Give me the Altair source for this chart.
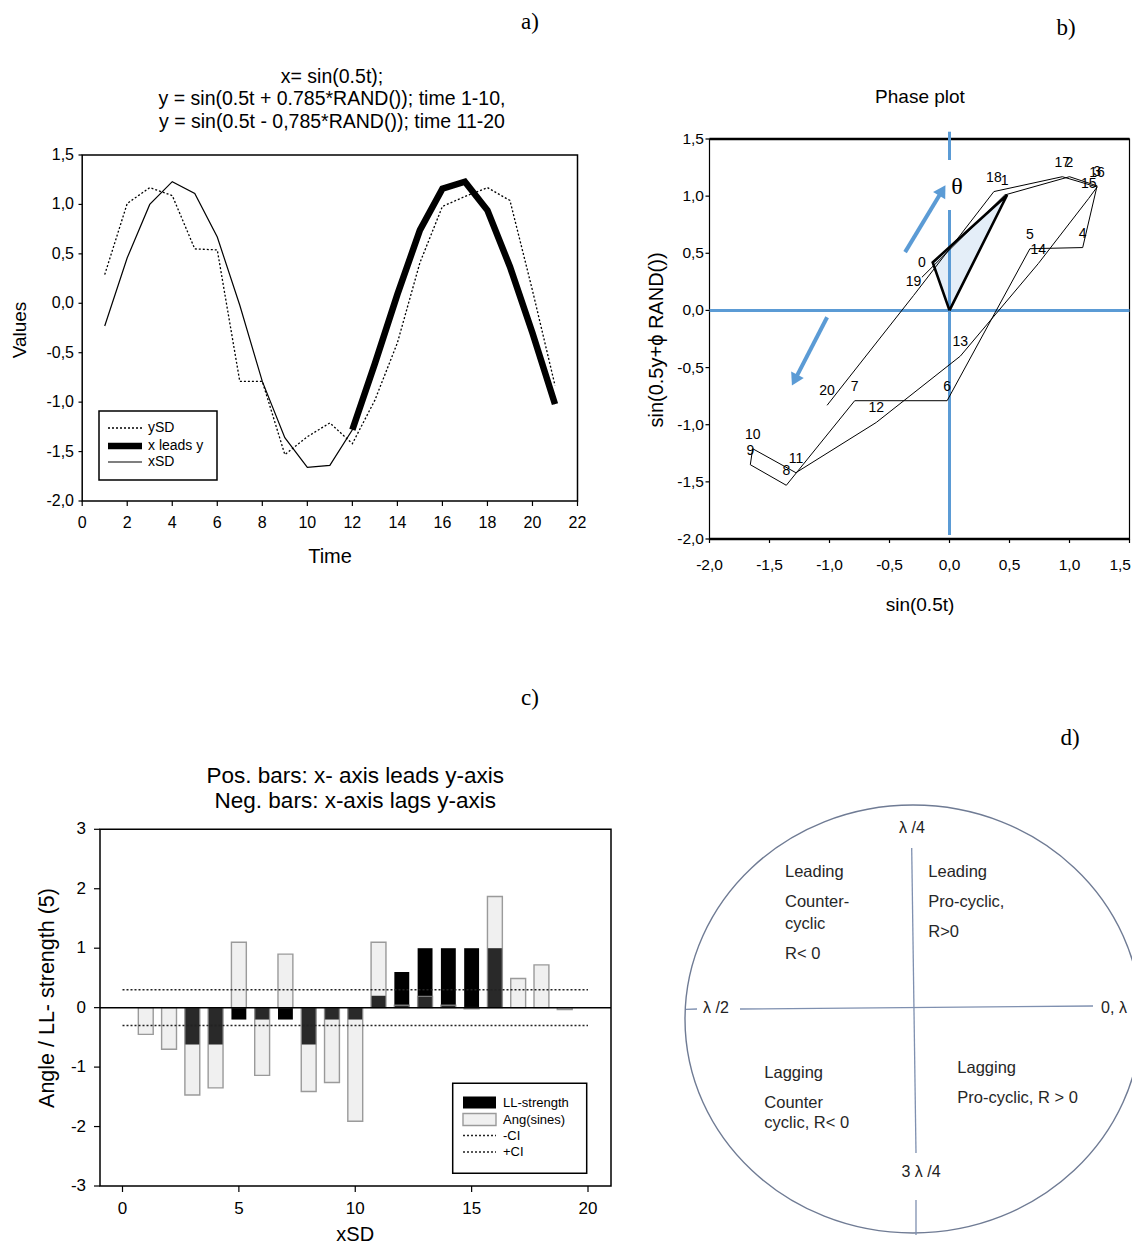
import altair as alt
import pandas as pd

# ======================= DATA =======================
# Panel a) standardised series, time 1..21
TIME = list(range(1, 22))
XSD = [-0.23, 0.46, 1.00, 1.23, 1.11, 0.67, -0.02, -0.79, -1.36, -1.66, -1.64,
       -1.28, -0.61, 0.09, 0.74, 1.16, 1.23, 0.94, 0.37, -0.30, -1.02]
YSD = [0.29, 1.01, 1.17, 1.09, 0.55, 0.54, -0.79, -0.79, -1.53, -1.35, -1.21,
       -1.42, -0.98, -0.40, 0.41, 0.98, 1.08, 1.17, 1.04, 0.13, -0.83]
LEAD_FROM = 12
A_TITLE = ["x= sin(0.5t);",
           "y = sin(0.5t + 0.785*RAND()); time 1-10,",
           "y = sin(0.5t - 0,785*RAND()); time 11-20"]
A_XTICKS = [0, 2, 4, 6, 8, 10, 12, 14, 16, 18, 20, 22]
A_YTICKS = [1.5, 1.0, 0.5, 0.0, -0.5, -1.0, -1.5, -2.0]
A_YLABELS = ["1,5", "1,0", "0,5", "0,0", "-0,5", "-1,0", "-1,5", "-2,0"]
A_LEGEND = ["ySD", "x leads y", "xSD"]

# Panel b) phase plot
B_TICKS = [-2.0, -1.5, -1.0, -0.5, 0.0, 0.5, 1.0, 1.5]
B_LABELS = ["-2,0", "-1,5", "-1,0", "-0,5", "0,0", "0,5", "1,0", "1,5"]
PHASE_LABELS = [str(t - 1) for t in TIME]
TRI_X = [0.0, -0.14, 0.48, 0.0]
TRI_Y = [0.0, 0.42, 1.01, 0.0]
ARROW_TAIL_X = [-0.37, -1.02]
ARROW_TAIL_Y = [0.51, -0.06]
ARROW_HEAD_X = [-0.06, -1.29]
ARROW_HEAD_Y = [1.05, -0.61]
ARROW_ANGLE = [31, 207]

# Panel c) bars
C_X = list(range(1, 20))
C_LL = [0, 0, -0.62, -0.62, -0.20, -0.20, -0.20, -0.62, -0.20, -0.20,
        0.20, 0.60, 1.00, 1.00, 1.00, 1.00, 0, 0, 0]
C_ANG = [-0.45, -0.70, -1.47, -1.35, 1.10, -1.14, 0.90, -1.41, -1.26, -1.91,
         1.10, 0.04, 0.19, 0.04, -0.02, 1.87, 0.49, 0.72, -0.03]
C_CI = 0.3
C_XTICKS = [0, 5, 10, 15, 20]
C_YTICKS = [3, 2, 1, 0, -1, -2, -3]
C_LEGEND = ["LL-strength", "Ang(sines)", "-CI", "+CI"]
C_TITLE = ["Pos. bars: x- axis leads y-axis", "Neg. bars: x-axis lags y-axis"]

# Panel d) diagram
D_AXIS_LABELS = ["λ /4", "λ /2", "0, λ", "3 λ /4"]
D_QUADRANTS = [["Leading", "Counter-", "cyclic", "R< 0"],
               ["Leading", "Pro-cyclic,", "R>0"],
               ["Lagging", "Counter", "cyclic, R< 0"],
               ["Lagging", "Pro-cyclic, R > 0"]]

# ======================= LAYOUT =======================
SANS = "Liberation Sans, Arial, Helvetica, sans-serif"
SERIF = "Liberation Serif, Times New Roman, serif"
M = 8  # page margin


class Panel:
    def __init__(self, xd, xp, yd, yp):
        self.X = alt.Scale(domain=list(xd), range=[xp[0] - M, xp[1] - M], nice=False, zero=False)
        self.Y = alt.Scale(domain=list(yd), range=[yp[0] - M, yp[1] - M], nice=False, zero=False)
        self.fx = lambda p: xd[0] + (p - xp[0]) * (xd[1] - xd[0]) / (xp[1] - xp[0])
        self.fy = lambda p: yd[0] + (p - yp[0]) * (yd[1] - yd[0]) / (yp[1] - yp[0])
        self.layers = []

    def enc(self, ch, x="x", y="y", x2=None, y2=None, **kw):
        e = {"x": alt.X(f"{x}:Q", scale=self.X, axis=None),
             "y": alt.Y(f"{y}:Q", scale=self.Y, axis=None)}
        if x2:
            e["x2"] = alt.X2(f"{x2}:Q")
        if y2:
            e["y2"] = alt.Y2(f"{y2}:Q")
        e.update(kw)
        return ch.encode(**e)

    def add(self, ch):
        self.layers.append(ch)

    def rect(self, x, x2, y, y2, **mk):
        df = pd.DataFrame({"x": [x], "x2": [x2], "y": [y], "y2": [y2]})
        self.add(self.enc(alt.Chart(df).mark_rect(**mk), x2="x2", y2="y2"))

    def rules(self, rows, **mk):
        df = pd.DataFrame(rows, columns=["x", "y", "x2", "y2"])
        self.add(self.enc(alt.Chart(df).mark_rule(**mk), x2="x2", y2="y2"))

    def texts(self, rows, **mk):
        mk.setdefault("font", SANS)
        mk.setdefault("baseline", "middle")
        mk.setdefault("color", "black")
        df = pd.DataFrame(rows, columns=["x", "y", "label"])
        self.add(self.enc(alt.Chart(df).mark_text(**mk), text="label:N"))

    def chart(self):
        return alt.layer(*self.layers)


# ---------------- panel a ----------------
A = Panel((0, 22), (82.2, 577.5), (-2, 1.5), (501, 155))
A.rect(0, 22, -2, 1.5, fillOpacity=0, stroke="black", strokeWidth=1.5)
ts = pd.DataFrame({"t": TIME, "xsd": XSD, "ysd": YSD})
A.add(A.enc(alt.Chart(ts).mark_line(color="black", strokeWidth=1.3, strokeDash=[2, 2]),
            x="t", y="ysd", order="t:Q"))
A.add(A.enc(alt.Chart(ts).mark_line(color="black", strokeWidth=1.2),
            x="t", y="xsd", order="t:Q"))
A.add(A.enc(alt.Chart(ts).transform_filter(alt.datum.t >= LEAD_FROM)
            .mark_line(color="black", strokeWidth=6.5), x="t", y="xsd", order="t:Q"))
A.rules([(0, v, A.fx(78.5), v) for v in A_YTICKS], color="black", strokeWidth=1.2)
A.rules([(t, -2, t, A.fy(506)) for t in A_XTICKS], color="black", strokeWidth=1.2)
A.texts([(A.fx(74), v, s) for v, s in zip(A_YTICKS, A_YLABELS)], align="right", fontSize=16)
A.texts([(t, A.fy(523), str(t)) for t in A_XTICKS], align="center", fontSize=16)
A.texts([(A.fx(330), A.fy(557), "Time")], fontSize=20)
A.texts([(A.fx(20), A.fy(330), "Values")], angle=270, fontSize=19)
A.texts([(A.fx(332), A.fy(y), s) for y, s in zip([77, 99, 122], A_TITLE)], fontSize=19.5)
A.texts([(A.fx(530), A.fy(22), "a)")], font=SERIF, fontSize=23)
A.rect(A.fx(99), A.fx(217), A.fy(480), A.fy(411), fill="white", stroke="black", strokeWidth=1.5)
LEG_A = [428, 446, 462]
A.rules([(A.fx(108), A.fy(LEG_A[0]), A.fx(142), A.fy(LEG_A[0]))], color="black",
        strokeWidth=1.3, strokeDash=[2, 2])
A.rules([(A.fx(108), A.fy(LEG_A[1]), A.fx(142), A.fy(LEG_A[1]))], color="black", strokeWidth=6.5)
A.rules([(A.fx(108), A.fy(LEG_A[2]), A.fx(142), A.fy(LEG_A[2]))], color="black", strokeWidth=1.2)
A.texts([(A.fx(148), A.fy(y), s) for y, s in zip(LEG_A, A_LEGEND)], align="left", fontSize=14)

# ---------------- panel b ----------------
BLUE = "#5b9bd5"
B = Panel((-2, 1.5), (709.5, 1129.5), (-2, 1.5), (539, 139))
tri = pd.DataFrame({"i": range(len(TRI_X)), "x": TRI_X, "y": TRI_Y})
B.add(B.enc(alt.Chart(tri).mark_line(fill="#e4eef8", strokeOpacity=0), order="i:Q"))
B.rect(-2, 1.5, -2, 1.5, fillOpacity=0, stroke="black", strokeWidth=1.2)
B.rules([(-2, 1.5, 1.5, 1.5), (-2, -2, 1.5, -2)], color="black", strokeWidth=2.5)
B.rules([(-2, 0, 1.5, 0), (0, B.fy(131.7), 0, B.fy(160)), (0, B.fy(210), 0, B.fy(535))],
        color=BLUE, strokeWidth=3)
ph = pd.DataFrame({"t": TIME, "x": XSD, "y": YSD, "label": PHASE_LABELS})
B.add(B.enc(alt.Chart(ph).mark_line(color="black", strokeWidth=1), order="t:Q"))
B.add(B.enc(alt.Chart(tri).mark_line(color="black", strokeWidth=2.6), order="i:Q"))
B.add(B.enc(alt.Chart(ph).mark_text(font=SANS, fontSize=14, dy=-14, color="black"),
            text="label:N"))
arr = pd.DataFrame({"x": ARROW_TAIL_X, "y": ARROW_TAIL_Y, "x2": ARROW_HEAD_X,
                    "y2": ARROW_HEAD_Y, "angle": ARROW_ANGLE})
B.add(B.enc(alt.Chart(arr).mark_rule(color=BLUE, strokeWidth=4), x2="x2", y2="y2"))
B.add(B.enc(alt.Chart(arr).mark_point(shape="triangle-up", filled=True, color=BLUE,
                                      size=200, opacity=1),
            x="x2", y="y2", angle=alt.Angle("angle:Q", scale=None)))
B.texts([(B.fx(957), B.fy(187), "θ")], font=SERIF, fontSize=24)
B.rules([(-2, v, B.fx(705.5), v) for v in B_TICKS], color="black", strokeWidth=1.2)
B.rules([(v, -2, v, B.fy(543)) for v in B_TICKS], color="black", strokeWidth=1.2)
B.texts([(B.fx(704), v, s) for v, s in zip(B_TICKS, B_LABELS)], align="right", fontSize=15.5)
B.texts([(v, B.fy(565), s) for v, s in zip(B_TICKS[:-1], B_LABELS[:-1])], align="center",
        fontSize=15.5)
B.texts([(B.fx(1131), B.fy(565), B_LABELS[-1])], align="right", fontSize=15.5)
B.texts([(B.fx(920), B.fy(97), "Phase plot")], fontSize=19)
B.texts([(B.fx(920), B.fy(605), "sin(0.5t)")], fontSize=19)
B.texts([(B.fx(657), B.fy(340), "sin(0.5y+ϕ RAND())")], fontSize=20, angle=270)
B.texts([(B.fx(1066), B.fy(28), "b)")], font=SERIF, fontSize=23)

# ---------------- panel c ----------------
C = Panel((0, 20), (122.5, 588), (-3, 3), (1186, 829.3))
XL, XR = C.fx(100), C.fx(611)
C.rect(XL, XR, -3, 3, fillOpacity=0, stroke="black", strokeWidth=1.5)
bars = pd.DataFrame({"x": C_X, "ll": C_LL, "ang": C_ANG})
BW = 0.32
base = alt.Chart(bars).transform_calculate(x0=f"datum.x - {BW}", x1=f"datum.x + {BW}", zero="0")
C.add(C.enc(base.mark_rect(color="black"), x="x0", x2="x1", y="ll", y2="zero"))
C.add(C.enc(base.mark_rect(fill="#bcbcbc", fillOpacity=0.22, stroke="#8a8a8a",
                           strokeWidth=1.4, strokeOpacity=0.85),
            x="x0", x2="x1", y="ang", y2="zero"))
C.rules([(XL, 0, XR, 0)], color="black", strokeWidth=1.5)
C.rules([(0, C_CI, 20, C_CI), (0, -C_CI, 20, -C_CI)], color="#222222",
        strokeWidth=1.4, strokeDash=[2, 2])
C.rules([(XL, v, C.fx(94), v) for v in C_YTICKS], color="black", strokeWidth=1.2)
C.rules([(t, -3, t, C.fy(1192)) for t in C_XTICKS], color="black", strokeWidth=1.2)
C.texts([(C.fx(86), v, str(v)) for v in C_YTICKS], align="right", fontSize=17)
C.texts([(t, C.fy(1209), str(t)) for t in C_XTICKS], align="center", fontSize=17)
C.texts([(10, C.fy(776), C_TITLE[0]), (10, C.fy(801), C_TITLE[1])], fontSize=22.5)
C.texts([(10, C.fy(1234.5), "xSD")], fontSize=20)
C.texts([(C.fx(48), C.fy(998), "Angle / LL- strength (5)")], fontSize=21.5, angle=270)
C.texts([(C.fx(530), C.fy(698), "c)")], font=SERIF, fontSize=23)
C.rect(C.fx(452.7), C.fx(586.7), C.fy(1173.3), C.fy(1083.3), fill="white",
       stroke="black", strokeWidth=1.5)
C.rect(C.fx(463), C.fx(496), C.fy(1108.5), C.fy(1096.5), color="black")
C.rect(C.fx(463), C.fx(496), C.fy(1125.5), C.fy(1113.5), fill="#f0f0f0",
       stroke="#9a9a9a", strokeWidth=1.4)
LEG_C = [1102.5, 1119.5, 1135.5, 1152]
C.rules([(C.fx(463), C.fy(y), C.fx(496), C.fy(y)) for y in LEG_C[2:]], color="#222222",
        strokeWidth=1.4, strokeDash=[2, 2])
C.texts([(C.fx(503), C.fy(y), s) for y, s in zip(LEG_C, C_LEGEND)], align="left", fontSize=13)

# ---------------- panel d ----------------
D = Panel((-1, 1), (685, 1141), (-1, 1), (1233, 805))
ELLIPSE = "M-1,0A1,0.9386 0 1,1 1,0A1,0.9386 0 1,1 -1,0Z"
D.add(D.enc(alt.Chart(pd.DataFrame({"x": [0], "y": [0]}))
            .mark_point(shape=ELLIPSE, size=456 ** 2, stroke="#6f7b94", strokeWidth=1.4,
                        opacity=1, filled=False)))
D.rules([(D.fx(686), D.fy(1009.3), D.fx(697), D.fy(1009)),
         (D.fx(740), D.fy(1009), D.fx(1093), D.fy(1006)),
         (D.fx(911.7), D.fy(848), D.fx(916), D.fy(1153)),
         (D.fx(916), D.fy(1200), D.fx(916), D.fy(1235))],
        color="#7f90b0", strokeWidth=1.3)
D_LAB_POS = [(912, 828), (716, 1008), (1114, 1008), (921, 1172)]
D.texts([(D.fx(px), D.fy(py), s) for (px, py), s in zip(D_LAB_POS, D_AXIS_LABELS)],
        fontSize=16, color="#222222")
D_Q_POS = [(785, [871.7, 901.7, 924, 954]),
           (928.3, [871.7, 901.7, 931.7]),
           (764.3, [1073.3, 1102.7, 1123.3]),
           (957.3, [1068.3, 1097.7])]
rows = []
for (px, ys), lines in zip(D_Q_POS, D_QUADRANTS):
    for py, s in zip(ys, lines):
        rows.append((D.fx(px), D.fy(py), s))
D.texts(rows, align="left", fontSize=16.5, color="#262626")
D.texts([(D.fx(1070), D.fy(738), "d)")], font=SERIF, fontSize=23)

chart = (
    alt.layer(A.chart(), B.chart(), C.chart(), D.chart())
    .resolve_scale(x="independent", y="independent")
    .properties(width=1124, height=1238, padding=0,
                autosize=alt.AutoSizeParams(type="none"), background="white")
    .configure_view(stroke=None)
)
chart.save("out.html", embed_options={"renderer": "svg", "actions": False})
